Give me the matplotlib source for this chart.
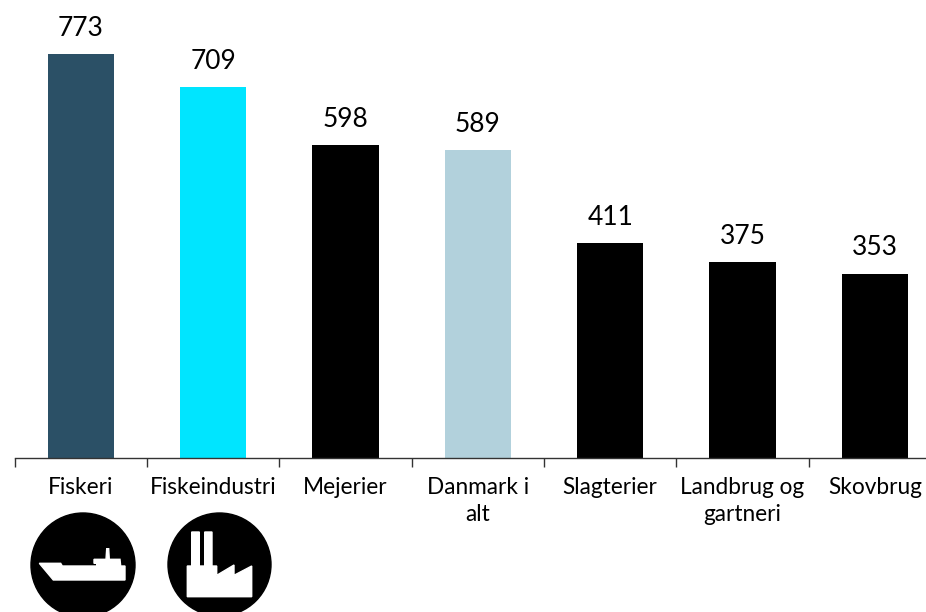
import numpy as np
from matplotlib import pyplot as plt
from matplotlib.patches import Circle, Polygon

categories = ['Fiskeri', 'Fiskeindustri', 'Mejerier', 'Danmark i\nalt', 'Slagterier', 'Landbrug og\ngartneri', 'Skovbrug']
values = [773, 709, 598, 589, 411, 375, 353]
colors = ['#2b5066', '#00e5ff', '#000000', '#b2d1dc', '#000000', '#000000', '#000000']

# icon outlines in pixels of the 926x612 picture
ship = [(39.3, 563.3), (60.7, 563.3), (62.3, 566), (96.7, 566), (96.7, 563.3), (94, 563.3), (94, 559.3),
        (106, 559.3), (106.7, 548.7), (108.7, 548.7), (109.3, 559.3), (120, 559.3), (120.7, 566),
        (125, 566), (125, 580), (53.3, 580)]
factory = [(187.3, 596.7), (187.3, 566), (191.7, 566), (191.7, 532), (199.3, 532), (199.3, 566), (204.7, 566),
           (204.7, 532), (212, 532), (212, 566), (216.7, 566), (216.7, 575.3), (234, 565), (234, 575.3),
           (251.7, 566), (251.7, 596.7)]

W, H = 926, 612
fig = plt.figure(figsize=(W/100, H/100), dpi=100)
plt.rcParams['font.family'] = 'Lato'

# one category is 132.3 px wide, the last one runs off the right edge
ax = fig.add_axes([14.8/W, (H-458)/H, 132.3*7/W, 458/H])
x = np.arange(len(values))
ax.bar(x, values, width=0.5, color=colors)
ax.set_xlim(-0.5, 6.5)
ax.set_ylim(0, 458/0.5226)

for i, v in zip(x, values):
    ax.annotate(str(v), (i, v), xytext=(0, 9.5), textcoords='offset points', ha='center', va='bottom',
                fontsize=19, color='black', family='Lato')

ax.set_yticks([])
ax.set_xticks(np.arange(-0.5, 7, 1))
ax.set_xticklabels([])
ax.tick_params(axis='x', length=6.5, width=1, color='#333333')
for s in ['top', 'left', 'right']:
    ax.spines[s].set_visible(False)
ax.spines['bottom'].set_color('#333333')
ax.spines['bottom'].set_linewidth(1)
ax.patch.set_alpha(0)

for i, c in zip(x, categories):
    ax.annotate(c, (i, 0), xytext=(0, -13.5), textcoords='offset points', ha='center', va='top',
                fontsize=16.3, color='black', family='Lato', linespacing=1.35)

# icons under the two fishing bars
over = fig.add_axes([0, 0, 1, 1])
over.set_xlim(0, W)
over.set_ylim(H, 0)
over.axis('off')
over.add_patch(Circle((83, 565), 52, color='black'))
over.add_patch(Circle((219.5, 564.5), 51.5, color='black'))
over.add_patch(Polygon(ship, color='white'))
over.add_patch(Polygon(factory, color='white'))

plt.savefig('out.png', dpi=100)
